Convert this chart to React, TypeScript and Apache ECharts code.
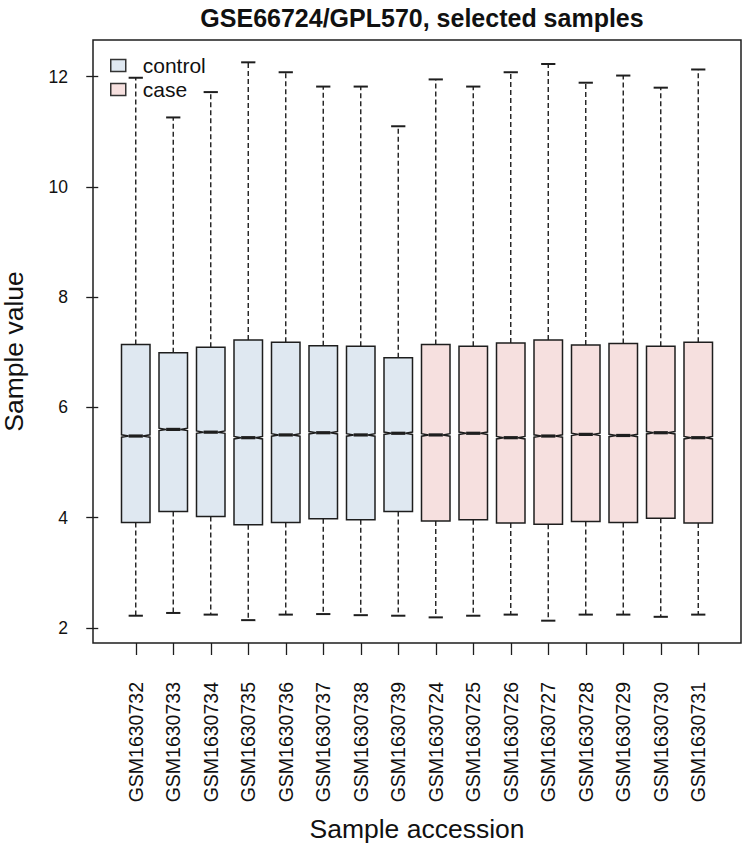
import React, { useEffect, useRef } from "react";
import * as echarts from "echarts";

const samples = [
  "GSM1630732", "GSM1630733", "GSM1630734", "GSM1630735",
  "GSM1630736", "GSM1630737", "GSM1630738", "GSM1630739",
  "GSM1630724", "GSM1630725", "GSM1630726", "GSM1630727",
  "GSM1630728", "GSM1630729", "GSM1630730", "GSM1630731",
];
const groups = [
  "control", "control", "control", "control", "control", "control", "control", "control",
  "case", "case", "case", "case", "case", "case", "case", "case",
];
const upperWhisker = [11.98, 11.26, 11.72, 12.26, 12.08, 11.82, 11.82, 11.10, 11.95, 11.82, 12.08, 12.23, 11.89, 12.02, 11.80, 12.13];
const q3Values = [7.14, 6.99, 7.09, 7.22, 7.18, 7.12, 7.11, 6.90, 7.14, 7.11, 7.17, 7.22, 7.13, 7.16, 7.11, 7.18];
const medianValues = [5.48, 5.60, 5.55, 5.45, 5.50, 5.54, 5.50, 5.53, 5.50, 5.53, 5.45, 5.48, 5.51, 5.49, 5.54, 5.45];
const q1Values = [3.91, 4.11, 4.02, 3.87, 3.91, 3.98, 3.96, 4.11, 3.94, 3.96, 3.90, 3.88, 3.93, 3.91, 3.99, 3.90];
const lowerWhisker = [2.22, 2.27, 2.24, 2.14, 2.24, 2.25, 2.23, 2.22, 2.19, 2.22, 2.24, 2.13, 2.24, 2.24, 2.20, 2.24];
const yTicks = [2, 4, 6, 8, 10, 12];
const groupNames = ["control", "case"];

const FILL: Record<string, string> = { control: "#dfe8f1", case: "#f6e0df" };
const INK = "#1e1e1e";
const FONT = "Liberation Sans";
const BOX_W = 0.76;
const NOTCH = 0.022;

export default function App() {
  const ref = useRef<HTMLDivElement>(null);
  useEffect(() => {
    if (!ref.current) return;
    const chart = echarts.init(ref.current, undefined, { renderer: "svg" });
    const xTicks = samples.map((_, i) => i + 1);

    const makeSeries = (g: string) => ({
      type: "custom",
      name: g,
      coordinateSystem: "cartesian2d",
      itemStyle: { color: FILL[g], borderColor: INK, borderWidth: 1 },
      encode: { x: 0, y: [1, 2, 3, 4, 5] },
      data: samples
        .map((s, i) => ({ i, s }))
        .filter(({ i }) => groups[i] === g)
        .map(({ i }) => [i + 1, lowerWhisker[i], q1Values[i], medianValues[i], q3Values[i], upperWhisker[i]]),
      renderItem: (params: any, api: any) => {
        const x = api.value(0);
        const lo = api.value(1), q1 = api.value(2), md = api.value(3), q3 = api.value(4), hi = api.value(5);
        const pLo = api.coord([x, lo]);
        const pQ1 = api.coord([x, q1]);
        const pMd = api.coord([x, md]);
        const pMdLo = api.coord([x, md - NOTCH]);
        const pMdHi = api.coord([x, md + NOTCH]);
        const pQ3 = api.coord([x, q3]);
        const pHi = api.coord([x, hi]);
        const hw = api.size([BOX_W, 0])[0] / 2;
        const cx = pMd[0];
        const capW = hw / 2;
        const dash = { stroke: INK, lineWidth: 1.4, lineDash: [5, 3] };
        const solid = { stroke: INK, lineWidth: 1.5 };
        return {
          type: "group",
          children: [
            { type: "line", shape: { x1: cx, y1: pQ3[1], x2: cx, y2: pHi[1] }, style: dash },
            { type: "line", shape: { x1: cx, y1: pQ1[1], x2: cx, y2: pLo[1] }, style: dash },
            { type: "line", shape: { x1: cx - capW, y1: pHi[1], x2: cx + capW, y2: pHi[1] }, style: { stroke: INK, lineWidth: 2 } },
            { type: "line", shape: { x1: cx - capW, y1: pLo[1], x2: cx + capW, y2: pLo[1] }, style: { stroke: INK, lineWidth: 2 } },
            {
              type: "polygon",
              shape: {
                points: [
                  [cx - hw, pQ1[1]], [cx + hw, pQ1[1]], [cx + hw, pMdLo[1]], [cx + hw / 2, pMd[1]],
                  [cx + hw, pMdHi[1]], [cx + hw, pQ3[1]], [cx - hw, pQ3[1]], [cx - hw, pMdHi[1]],
                  [cx - hw / 2, pMd[1]], [cx - hw, pMdLo[1]],
                ],
              },
              style: { fill: FILL[g], ...solid },
            },
            { type: "line", shape: { x1: cx - hw / 2, y1: pMd[1], x2: cx + hw / 2, y2: pMd[1] }, style: { stroke: INK, lineWidth: 3.2 } },
          ],
        };
      },
    });

    chart.setOption({
      animation: false,
      backgroundColor: "#ffffff",
      title: {
        text: "GSE66724/GPL570, selected samples",
        left: 417,
        textAlign: "center",
        top: 0,
        textStyle: { fontFamily: FONT, fontSize: 25, fontWeight: "bold", color: "#111" },
      },
      legend: {
        orient: "vertical",
        left: 105,
        top: 50,
        itemWidth: 15,
        itemHeight: 12,
        itemGap: 3,
        icon: "rect",
        data: groupNames.map((g) => ({
          name: g,
          itemStyle: { color: FILL[g], borderColor: "#333", borderWidth: 1.5 },
        })),
        textStyle: { fontFamily: FONT, fontSize: 21, color: "#111", padding: [0, 0, 0, 12] },
      },
      grid: {
        left: 93,
        right: 9,
        top: 40,
        bottom: 208,
        show: true,
        borderColor: INK,
        borderWidth: 1.5,
        containLabel: false,
        outerBoundsMode: "none",
      },
      xAxis: {
        type: "value",
        min: -0.14,
        max: 17.14,
        name: "Sample accession",
        nameLocation: "middle",
        nameGap: 172,
        nameTextStyle: { fontFamily: FONT, fontSize: 26.5, color: "#111" },
        axisLine: { show: false },
        splitLine: { show: false },
        axisTick: { show: true, customValues: xTicks, length: 12, lineStyle: { color: INK, width: 1.3 } },
        axisLabel: {
          customValues: xTicks,
          rotate: 90,
          margin: 39,
          fontFamily: FONT,
          fontSize: 19.5,
          color: "#111",
          formatter: (v: number) => samples[Math.round(v) - 1] ?? "",
        },
      },
      yAxis: {
        type: "value",
        min: 1.725,
        max: 12.665,
        name: "Sample value",
        nameLocation: "middle",
        nameGap: 66,
        nameRotate: 90,
        nameTextStyle: { fontFamily: FONT, fontSize: 26.5, color: "#111", padding: [0, 20, 0, 0] },
        axisLine: { show: false },
        splitLine: { show: false },
        axisTick: { show: true, customValues: yTicks, length: 12, lineStyle: { color: INK, width: 1.3 } },
        axisLabel: {
          customValues: yTicks,
          margin: 25,
          fontFamily: FONT,
          fontSize: 17.5,
          color: "#111",
        },
      },
      series: groupNames.map(makeSeries),
    } as any);
    return () => chart.dispose();
  }, []);
  return <div ref={ref} style={{ position: "fixed", left: 0, top: 0, width: 750, height: 851 }} />;
}
